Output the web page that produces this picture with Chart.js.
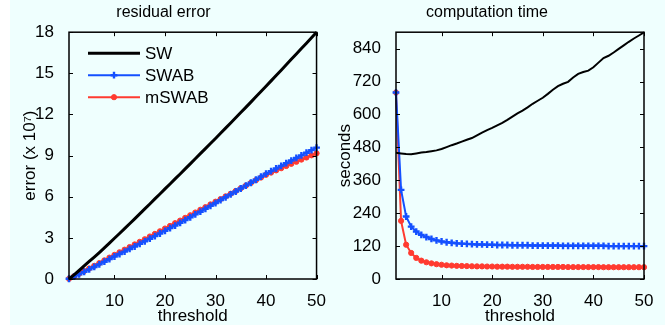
<!DOCTYPE html>
<html>
<head>
<meta charset="utf-8">
<script src="https://cdn.jsdelivr.net/npm/chart.js@4.4.0/dist/chart.umd.min.js"></script>
<style>
  html, body { margin: 0; padding: 0; background: #fff; }
  #wrap { position: absolute; left: 10px; top: 0; width: 655px; height: 325px; background: #effffe; }
  #left { position: absolute; left: 0; top: 0; width: 320px; height: 325px; }
  #right { position: absolute; left: 320px; top: 0; width: 335px; height: 325px; }
</style>
</head>
<body>
<div id="wrap">
  <canvas id="left" width="320" height="325"></canvas>
  <canvas id="right" width="335" height="325"></canvas>
</div>
<script>
const thresholds = [1, 2, 3, 4, 5, 6, 7, 8, 9, 10, 11, 12, 13, 14, 15, 16, 17, 18, 19, 20,
  21, 22, 23, 24, 25, 26, 27, 28, 29, 30, 31, 32, 33, 34, 35, 36, 37, 38, 39, 40,
  41, 42, 43, 44, 45, 46, 47, 48, 49, 50];
const xTicks = [10, 20, 30, 40, 50];
const errorTicks = [0, 3, 6, 9, 12, 15, 18];
const timeTicks = [0, 120, 240, 360, 480, 600, 720, 840];

// residual error (x 10^7)
const errSW = [0, 0.3, 0.62, 0.95, 1.28, 1.6, 1.93, 2.27, 2.62, 2.97, 3.32, 3.67, 4.03, 4.39, 4.75,
  5.11, 5.47, 5.84, 6.2, 6.57, 6.93, 7.3, 7.66, 8.03, 8.4, 8.77, 9.14, 9.51, 9.88, 10.25,
  10.63, 11.0, 11.38, 11.76, 12.14, 12.52, 12.9, 13.29, 13.67, 14.06, 14.45, 14.84, 15.23,
  15.62, 16.02, 16.41, 16.81, 17.2, 17.6, 18.0];
const errSWAB = [0.02, 0.17, 0.34, 0.52, 0.7, 0.88, 1.07, 1.26, 1.45, 1.64, 1.82, 2.0, 2.19, 2.37,
  2.56, 2.75, 2.94, 3.13, 3.32, 3.51, 3.71, 3.9, 4.1, 4.3, 4.5, 4.71, 4.91, 5.12, 5.33, 5.54,
  5.75, 5.96, 6.17, 6.38, 6.6, 6.81, 7.02, 7.24, 7.46, 7.68, 7.87, 8.06, 8.25, 8.45, 8.64,
  8.83, 9.02, 9.21, 9.4, 9.58];
const errMSWAB = [0.02, 0.2, 0.39, 0.58, 0.77, 0.96, 1.16, 1.36, 1.56, 1.76, 1.95, 2.14, 2.33, 2.52,
  2.71, 2.9, 3.1, 3.29, 3.48, 3.68, 3.87, 4.07, 4.26, 4.46, 4.65, 4.85, 5.05, 5.24, 5.44, 5.64,
  5.83, 6.03, 6.22, 6.42, 6.62, 6.81, 7.01, 7.21, 7.4, 7.6, 7.76, 7.92, 8.08, 8.24, 8.4,
  8.55, 8.71, 8.86, 9.02, 9.17];

// computation time (seconds)
const timeSW = [460, 458, 456, 455, 458, 461, 463, 466, 469, 474, 481, 488, 494, 501, 508, 514,
  524, 534, 543, 551, 560, 569, 580, 592, 604, 614, 626, 639, 650, 661, 675, 690, 703, 712,
  719, 735, 748, 755, 760, 772, 789, 806, 814, 826, 839, 852, 865, 877, 888, 899];
const timeSWAB = [680, 325, 228, 191, 173, 161, 153, 146, 141, 137, 134, 132, 130, 129, 128, 127,
  126, 126, 125, 125, 124, 124, 124, 123, 123, 123, 123, 122, 122, 122, 122, 122, 122, 121,
  121, 121, 121, 121, 121, 121, 121, 121, 120, 120, 120, 120, 120, 120, 120, 120];
const timeMSWAB = [680, 212, 125, 95, 77, 67, 61, 57, 54, 52, 50, 49, 48, 47.5, 47, 46.5, 46, 46,
  45.5, 45.5, 45, 45, 45, 44.5, 44.5, 44.5, 44.5, 44, 44, 44, 44, 44, 44, 44, 43.5, 43.5,
  43.5, 43.5, 43.5, 43.5, 43.5, 43, 43, 43, 43, 43, 43, 43, 43, 43];

const FONT = "'Liberation Sans', Arial, Helvetica, sans-serif";
Chart.defaults.font.family = FONT;
Chart.defaults.color = '#000';

const BLUE = '#1450ff';
const RED = '#ff3b30';

const pts = (vals) => thresholds.map((t, i) => ({ x: t, y: vals[i] }));

// box round the plot with inward ticks on all four sides
const framePlugin = {
  id: 'frame',
  afterDatasetsDraw(chart) {
    const { ctx, chartArea: a, scales: { x, y } } = chart;
    ctx.save();
    ctx.strokeStyle = '#000';
    ctx.lineWidth = 1;
    ctx.beginPath();
    x.ticks.forEach(t => {
      const px = Math.round(x.getPixelForValue(t.value)) + 0.5;
      ctx.moveTo(px, a.bottom); ctx.lineTo(px, a.bottom - 4);
      ctx.moveTo(px, a.top); ctx.lineTo(px, a.top + 4);
    });
    y.ticks.forEach(t => {
      const py = Math.round(y.getPixelForValue(t.value)) + 0.5;
      ctx.moveTo(a.left, py); ctx.lineTo(a.left + 4, py);
      ctx.moveTo(a.right, py); ctx.lineTo(a.right - 4, py);
    });
    ctx.stroke();
    ctx.lineWidth = 1.5;
    ctx.strokeRect(a.left, a.top, a.right - a.left, a.bottom - a.top);
    ctx.restore();
  }
};

// legend inside the plot, MATLAB style
const boxLegend = {
  id: 'boxLegend',
  afterDraw(chart) {
    const { ctx, chartArea: a } = chart;
    ctx.save();
    ctx.font = '17px ' + FONT;
    ctx.textBaseline = 'middle';
    chart.data.datasets.forEach((ds, i) => {
      const y = a.top + 21 + i * 22;
      const x0 = a.left + 19, x1 = a.left + 71;
      ctx.strokeStyle = ds.borderColor;
      ctx.lineWidth = ds.borderWidth;
      ctx.beginPath(); ctx.moveTo(x0, y); ctx.lineTo(x1, y); ctx.stroke();
      if (ds.pointRadius > 0) {
        ctx.fillStyle = ds.pointBackgroundColor;
        ctx.strokeStyle = ds.pointBorderColor;
        ctx.lineWidth = ds.pointBorderWidth;
        Chart.helpers.drawPoint(ctx, { pointStyle: ds.pointStyle, radius: ds.pointRadius, borderWidth: ds.pointBorderWidth, rotation: 0 }, (x0 + x1) / 2, y);
      }
      ctx.fillStyle = '#000';
      ctx.fillText(ds.label, a.left + 76, y + 1);
    });
    ctx.restore();
  }
};

function series(label, vals, color, width, style, radius, pbw) {
  return {
    label, data: pts(vals), borderColor: color, borderWidth: width, tension: 0,
    pointStyle: style, pointRadius: radius, pointBackgroundColor: color,
    pointBorderColor: color, pointBorderWidth: pbw, clip: false
  };
}

function makeChart(id, title, yTitle, datasets, yMax, yTicks, yWidth, yTitlePad, padRight, plugins) {
  return new Chart(document.getElementById(id), {
    type: 'line',
    data: { datasets },
    options: {
      responsive: false,
      animation: false,
      layout: { padding: { left: 0, right: padRight, top: 0, bottom: 0 } },
      plugins: {
        legend: { display: false },
        tooltip: { enabled: false },
        title: { display: true, text: title, color: '#000', font: { size: 16, weight: 'normal' }, padding: { top: 3, bottom: 10 } }
      },
      scales: {
        x: {
          type: 'linear', min: 1, max: 50,
          grid: { display: false }, border: { display: false },
          ticks: { font: { size: 17 }, padding: 4, maxRotation: 0, autoSkip: false, color: '#000' },
          afterBuildTicks: s => { s.ticks = xTicks.map(v => ({ value: v })); },
          afterFit: s => { s.height = 46; },
          title: { display: true, text: 'threshold', font: { size: 17 }, padding: { top: 0, bottom: -2 }, color: '#000' }
        },
        y: {
          type: 'linear', min: 0, max: yMax,
          grid: { display: false }, border: { display: false },
          ticks: { font: { size: 17 }, padding: 7, autoSkip: false, color: '#000' },
          afterBuildTicks: s => { s.ticks = yTicks.map(v => ({ value: v })); },
          afterFit: s => { s.width = yWidth; },
          title: { display: true, text: yTitle, font: { size: 17 }, padding: { top: yTitlePad, bottom: 0 }, color: '#000' }
        }
      }
    },
    plugins
  });
}

makeChart('left', 'residual error', 'error (x 10\u2077)', [
  series('SW', errSW, '#000', 3, 'circle', 0, 0),
  series('SWAB', errSWAB, BLUE, 2, 'cross', 3.4, 2.4),
  series('mSWAB', errMSWAB, RED, 2, 'circle', 2.6, 1)
], 18, errorTicks, 59, 10, 13, [framePlugin, boxLegend]);

makeChart('right', 'computation time', 'seconds', [
  series('SW', timeSW, '#000', 2, 'circle', 0, 0),
  series('SWAB', timeSWAB, BLUE, 2, 'cross', 3.4, 2.4),
  series('mSWAB', timeMSWAB, RED, 2, 'circle', 2.6, 1)
], 900, timeTicks, 66, 5, 21, [framePlugin]);
</script>
</body>
</html>
